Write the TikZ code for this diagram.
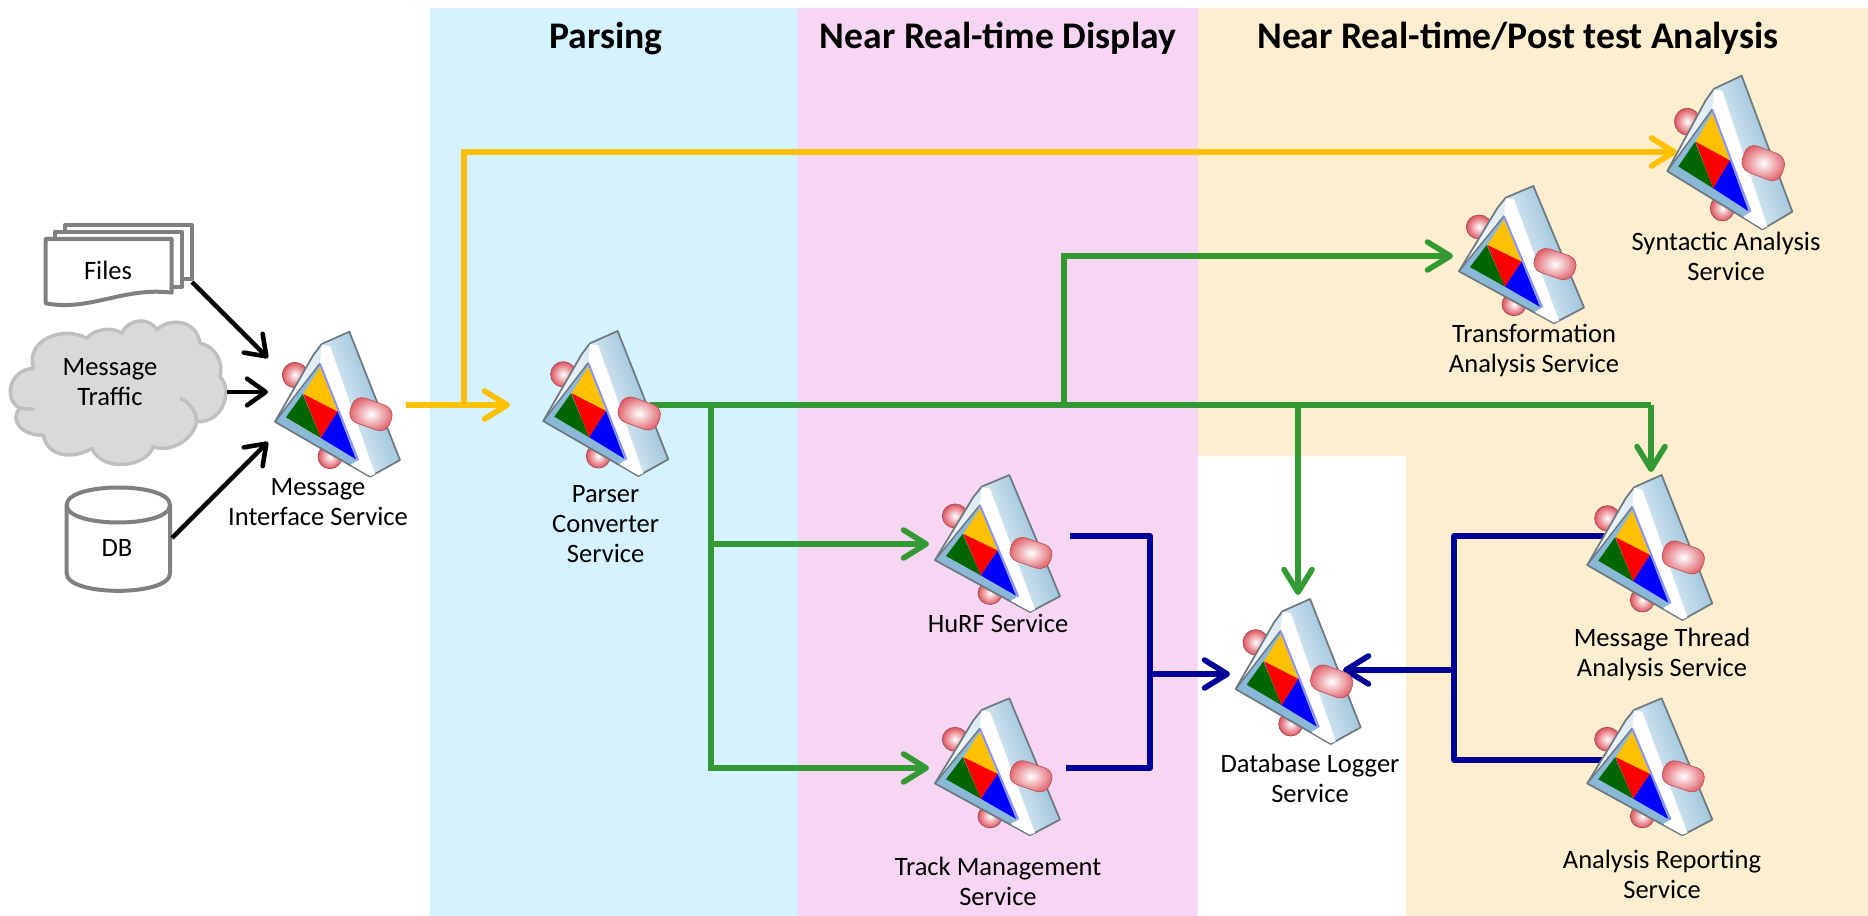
\documentclass[tikz,border=0pt]{standalone}
\usepackage{fontspec}
\setmainfont{Carlito}
\usetikzlibrary{arrows.meta,positioning}
\definecolor{bluebg}{HTML}{D4F2FF}
\definecolor{pinkbg}{HTML}{F7D6F3}
\definecolor{tanbg}{HTML}{FCEECF}
\definecolor{flowyellow}{HTML}{FFC000}
\definecolor{flowgreen}{HTML}{339933}
\definecolor{flowblue}{HTML}{000099}
\definecolor{shapegray}{HTML}{808080}
\definecolor{cloudfill}{HTML}{D9D9D9}
\definecolor{cloudline}{HTML}{BFBFBF}
\definecolor{wedgeblue}{HTML}{7FB2D0}
\definecolor{wedgemid}{HTML}{DCEAF3}
\definecolor{framecol}{HTML}{8CB8D8}
\definecolor{knobcol}{HTML}{DE5560}
\definecolor{knobedge}{HTML}{A85058}
\definecolor{edgecol}{HTML}{6E7880}
\tikzset{
 x=0.75pt,y=-0.75pt,
 lbl/.style={font=\fontsize{19.9}{22.5}\selectfont,align=center,inner sep=0pt,text=black},
 head/.style={font=\bfseries\fontsize{28.2}{32}\selectfont,inner sep=0pt},
 tip/.style={-{Straight Barb[length=17pt,width=21pt,line width=4.2pt,round]}},
 tipk/.style={-{Straight Barb[length=14pt,width=20pt,line width=3.4pt,round]}},
 ylw/.style={draw=flowyellow,line width=4.5pt,tip},
 grn/.style={draw=flowgreen,line width=4.5pt,tip},
 blu/.style={draw=flowblue,line width=4.5pt,tip},
 blk/.style={draw=black,line width=3.2pt,tipk},
 plaingreen/.style={draw=flowgreen,line width=4.5pt},
 plainblue/.style={draw=flowblue,line width=4.5pt,line join=round},
 gshape/.style={draw=shapegray,line width=3pt,fill=white,line join=round},
 icon/.pic={
  \begin{scope}[x=0.25pt,y=-0.25pt,shift={(-240,-260)}]
   \shade[inner color=white,outer color=knobcol,draw=knobedge,line width=.6pt] (105,165) circle (38);
   \shade[inner color=white,outer color=knobcol,draw=knobedge,line width=.6pt] (210,410) circle (36);
   \shade[top color=white,bottom color=wedgeblue,middle color=wedgemid,shading angle=110,draw=edgecol,line width=1.3pt,line join=round]
     (268,35) -- (185,72) -- (160,105) -- (45,305) -- (330,470) -- (420,420) -- cycle;
   \fill[white] (185,74) -- (210,78) -- (345,462) -- (330,468) -- (275,436) -- (180,130) -- cycle;
   \fill[framecol] (180,130) -- (45,305) -- (270,435) -- (295,420) -- cycle;
   \draw[edgecol,line width=1.1pt,line join=round] (180,130) -- (45,305) -- (270,435);
   \draw[blue!45!white,line width=1.2pt] (180,130) -- (295,420);
   \fill[green!40!black] (128,222) -- (78,292) -- (183,354) -- cycle;
   \fill[flowyellow] (180,142) -- (130,222) -- (233,275) -- cycle;
   \fill[red] (130,222) -- (233,275) -- (183,354) -- cycle;
   \fill[blue] (233,275) -- (183,354) -- (288,418) -- cycle;
   \begin{scope}[rotate around={-20:(333,282)}]
    \shade[inner color=white,outer color=knobcol,draw=knobedge!70!knobcol,line width=.5pt,rounded corners=8pt] (270,243) rectangle (396,322);
   \end{scope}
  \end{scope}
 }
}
\begin{document}
\begin{tikzpicture}
\useasboundingbox (0,0) rectangle (1868,916);
\fill[white] (0,0) rectangle (1868,916);
\fill[bluebg] (430,8) rectangle (798,916);
\fill[pinkbg] (798,8) rectangle (1198,916);
\fill[tanbg] (1198,8) rectangle (1868,916);
\fill[white] (1198,456) rectangle (1406,916);
\node[head] (hparse) at (606,38) {Parsing};
\node[head] (hnear) at (998,38) {Near Real-time Display};
\node[head] (hpost) at (1518,38) {Near Real-time/Post test Analysis};

% connector end points
\coordinate (misin1) at (268,358);
\coordinate (misin2) at (268,392);
\coordinate (misin3) at (268,442);
\coordinate (misout) at (406,405);
\coordinate (pcin) at (510,405);
\coordinate (pcout) at (650,405);
\coordinate (yj) at (464,405);
\coordinate (yc) at (464,152);
\coordinate (synin) at (1677,152);
\coordinate (gj1) at (1064,405);
\coordinate (gc1) at (1064,256);
\coordinate (trin) at (1453,256);
\coordinate (gj2) at (1298,405);
\coordinate (dbtop) at (1298,595);
\coordinate (gc3) at (1651,405);
\coordinate (mtin) at (1651,472);
\coordinate (gj4) at (711,405);
\coordinate (gj5) at (711,544);
\coordinate (hurfin) at (929,544);
\coordinate (gc6) at (711,768);
\coordinate (tmin) at (929,768);
\coordinate (hurfout) at (1070,536);
\coordinate (bc1) at (1150,536);
\coordinate (bc2) at (1150,768);
\coordinate (tmout) at (1066,768);
\coordinate (bj1) at (1150,674);
\coordinate (dbin1) at (1230,674);
\coordinate (bj2) at (1454,670);
\coordinate (dbin2) at (1343,670);
\coordinate (mtout) at (1604,536);
\coordinate (bc3) at (1454,536);
\coordinate (bc4) at (1454,760);
\coordinate (aout) at (1604,760);

% files
\begin{scope}[x=0.25pt,y=-0.25pt,shift={(0,600)}]
\draw[gshape] (195,75) rectangle (575,238);
\draw[gshape] (165,95) rectangle (545,260);
\draw[gshape] (137,117) -- (515,117) -- (515,278) .. controls (370,260) and (270,335) .. (137,310) -- cycle;
% cloud
\draw[draw=cloudline,fill=cloudfill,line width=2.6pt,line join=round]
 (60,625) .. controls (10,600) and (25,510) .. (100,505)
 .. controls (75,420) and (190,375) .. (260,415)
 .. controls (285,385) and (340,380) .. (365,400)
 .. controls (385,355) and (450,350) .. (470,390)
 .. controls (510,350) and (590,360) .. (600,430)
 .. controls (650,440) and (670,490) .. (660,530)
 .. controls (700,570) and (670,670) .. (590,665)
 .. controls (580,720) and (510,760) .. (460,740)
 .. controls (440,800) and (310,820) .. (275,745)
 .. controls (220,780) and (140,770) .. (130,705)
 .. controls (70,710) and (25,660) .. (60,625) -- cycle;
\draw[draw=cloudline,line width=2.6pt] (60,625) -- (102,628);
\draw[draw=cloudline,line width=2.6pt] (540,595) .. controls (570,605) and (590,640) .. (590,665);
% cylinder
\draw[gshape] (200,915) -- (200,1120) .. controls (200,1190) and (510,1190) .. (510,1120) -- (510,915)
 .. controls (510,845) and (200,845) .. (200,915) -- cycle;
\draw[gshape,fill=none] (200,915) .. controls (200,985) and (510,985) .. (510,915);
\end{scope}
\coordinate (filesout) at (192,282);
\coordinate (cloudout) at (227,392);
\coordinate (dbout) at (172,538);
\node[lbl] (files) at (108,270) {Files};
\node[lbl] (traffic) at (110,382) {Message\\Traffic};
\node[lbl] (db) at (117,548) {DB};

\draw[blk] (filesout) -- (misin1);
\draw[blk] (cloudout) -- (misin2);
\draw[blk] (dbout) -- (misin3);

% flows
\draw[ylw] (misout) -- (pcin);
\draw[ylw] (yj) -- (yc) -- (synin);
\draw[plaingreen] (pcout) -- (gc3);
\draw[grn] (gc3) -- (mtin);
\draw[grn] (gj1) -- (gc1) -- (trin);
\draw[grn] (gj2) -- (dbtop);
\draw[grn] (gj4) -- (gj5) -- (hurfin);
\draw[grn] (gj5) -- (gc6) -- (tmin);
\draw[plainblue] (hurfout) -- (bc1) -- (bc2) -- (tmout);
\draw[blu] (bj1) -- (dbin1);
\draw[blu] (bj2) -- (dbin2);
\draw[plainblue] (mtout) -- (bc3) -- (bc4) -- (aout);

% icons
\pic at (340,406.7) {icon};
\pic at (608.3,406) {icon};
\pic[yscale=1.06] at (1732.3,155.2) {icon};
\pic[yscale=0.947] at (1524,257) {icon};
\pic[yscale=0.945] at (1000,545.9) {icon};
\pic[yscale=0.945] at (1000,769.2) {icon};
\pic at (1300.7,674) {icon};
\pic at (1652.3,550) {icon};
\pic[yscale=0.945] at (1652.3,769.2) {icon};

% labels
\node[lbl] (lmis) at (318,502) {Message\\Interface Service};
\node[lbl] (lpc) at (605.6,524) {Parser\\Converter\\Service};
\node[lbl] (lsyn) at (1726,256.7) {Syntactic Analysis\\Service};
\node[lbl] (ltr) at (1534,350) {Transformation\\Analysis Service};
\node[lbl] (lhurf) at (998,623) {HuRF Service};
\node[lbl] (ltm) at (998,881) {Track Management\\Service};
\node[lbl] (ldb) at (1310,778) {Database Logger\\Service};
\node[lbl] (lmt) at (1662,654) {Message Thread\\Analysis Service};
\node[lbl] (lar) at (1662,874) {Analysis Reporting\\Service};
\end{tikzpicture}
\end{document}
